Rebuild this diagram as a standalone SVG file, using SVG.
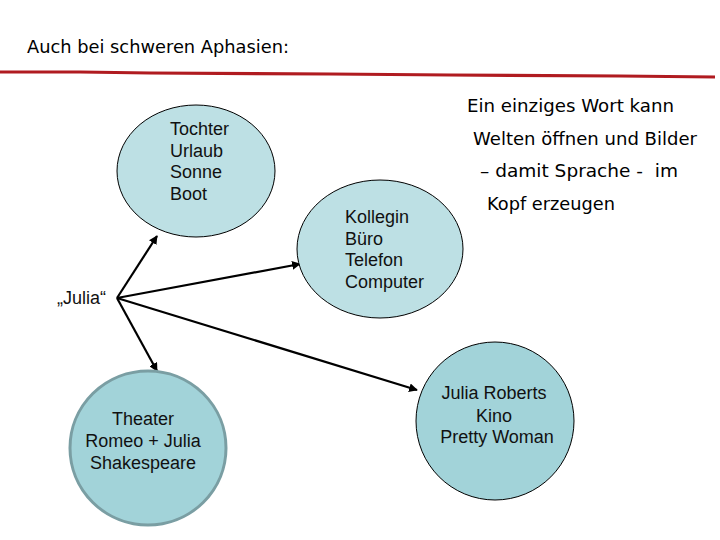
<svg xmlns="http://www.w3.org/2000/svg" width="720" height="540" viewBox="0 0 720 540">
<style>
.t{font-family:"DejaVu Sans",Verdana,sans-serif;fill:#000}
.n{font-family:"Liberation Sans",Arial,sans-serif;font-size:18px;fill:#111}
.e1{fill:#bde0e4;stroke:#000;stroke-width:1}
.e2{fill:#a2d3d9;stroke:#000;stroke-width:1}
.e3{fill:#a2d3d9;stroke:#7a9ea3;stroke-width:3}
.c{stroke:#000;stroke-width:2.2;fill:none}
</style>
<defs>
<marker id="ah" viewBox="0 0 10 10" refX="9" refY="5" markerWidth="4" markerHeight="4" orient="auto" markerUnits="strokeWidth">
<path d="M0,0 L10,5 L0,10 z" fill="#000"/>
</marker>
</defs>
<rect width="720" height="540" fill="#fff"/>
<g id="title">
<text class="t" x="27" y="53" font-size="17" textLength="262" lengthAdjust="spacingAndGlyphs">Auch bei schweren Aphasien:</text>
<path d="M0,72 L80,72 L150,73 L330,74 L450,75 L620,76 L715,77" stroke="#b01b20" stroke-width="3.2" fill="none"/>
</g>
<g id="quote">
<text class="t" x="467" y="112" font-size="17.5" textLength="207" lengthAdjust="spacingAndGlyphs">Ein einziges Wort kann</text>
<text class="t" x="473" y="145" font-size="17.5" textLength="224" lengthAdjust="spacingAndGlyphs">Welten öffnen und Bilder</text>
<text class="t" x="480" y="177" font-size="17.5" xml:space="preserve" textLength="198" lengthAdjust="spacingAndGlyphs">– damit Sprache -  im</text>
<text class="t" x="487" y="210" font-size="17.5" textLength="128" lengthAdjust="spacingAndGlyphs">Kopf erzeugen</text>
</g>
<g id="connectors">
<line class="c" x1="117" y1="298" x2="157" y2="236" marker-end="url(#ah)"/>
<line class="c" x1="117" y1="298" x2="300" y2="264" marker-end="url(#ah)"/>
<line class="c" x1="117" y1="298" x2="157" y2="371" marker-end="url(#ah)"/>
<line class="c" x1="117" y1="298" x2="417" y2="390" marker-end="url(#ah)"/>
</g>
<g id="julia">
<text class="n" x="57" y="304">„Julia“</text>
</g>
<g id="node-tochter">
<ellipse class="e1" cx="196" cy="171" rx="79" ry="66"/>
<text class="n" x="170" y="135">Tochter</text>
<text class="n" x="170" y="157">Urlaub</text>
<text class="n" x="170" y="178">Sonne</text>
<text class="n" x="170" y="200">Boot</text>
</g>
<g id="node-kollegin">
<ellipse class="e1" cx="380" cy="249" rx="83" ry="69"/>
<text class="n" x="345" y="223">Kollegin</text>
<text class="n" x="345" y="245">Büro</text>
<text class="n" x="345" y="266">Telefon</text>
<text class="n" x="345" y="288">Computer</text>
</g>
<g id="node-theater">
<ellipse class="e3" cx="148" cy="448" rx="78" ry="77"/>
<text class="n" x="143" y="425" text-anchor="middle">Theater</text>
<text class="n" x="143" y="447" text-anchor="middle">Romeo + Julia</text>
<text class="n" x="143" y="469" text-anchor="middle">Shakespeare</text>
</g>
<g id="node-roberts">
<ellipse class="e2" cx="495" cy="421" rx="79" ry="79"/>
<text class="n" x="494" y="399" text-anchor="middle">Julia Roberts</text>
<text class="n" x="494" y="422" text-anchor="middle">Kino</text>
<text class="n" x="497" y="443" text-anchor="middle">Pretty Woman</text>
</g>
</svg>
